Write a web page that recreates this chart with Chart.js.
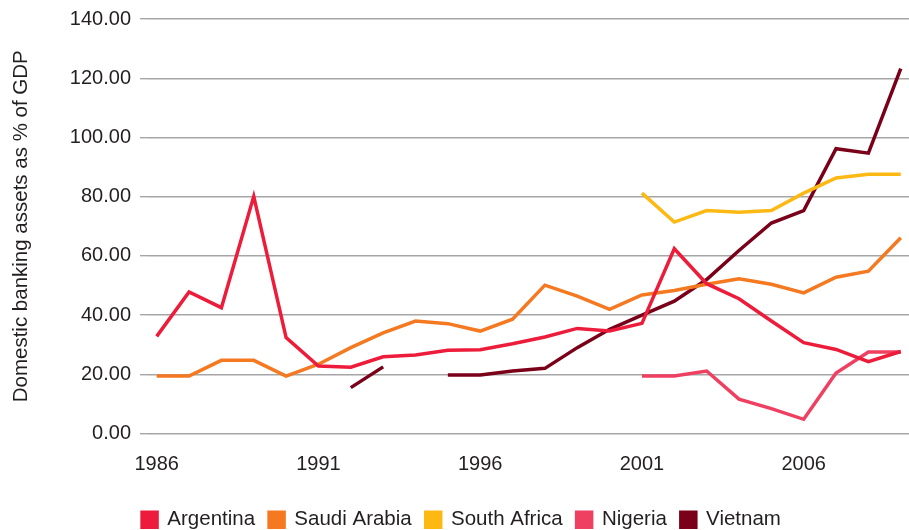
<!DOCTYPE html>
<html>
<head>
<meta charset="utf-8">
<script src="https://cdn.jsdelivr.net/npm/chart.js@4/dist/chart.umd.min.js"></script>
<style>
  html, body { margin: 0; padding: 0; background: #ffffff; }
  #wrap { width: 909px; height: 530px; position: relative; }
</style>
</head>
<body>
<div id="wrap"><canvas id="c" width="909" height="530"></canvas></div>
<script>
const years = [1986,1987,1988,1989,1990,1991,1992,1993,1994,1995,1996,1997,1998,1999,2000,2001,2002,2003,2004,2005,2006,2007,2008,2009];
const tickYears = [1986, 1991, 1996, 2001, 2006];
const yTicks = [0, 20, 40, 60, 80, 100, 120, 140];
const seriesNames = ['Argentina', 'Saudi Arabia', 'South Africa', 'Nigeria', 'Vietnam'];

const argentina   = [32.8, 47.8, 42.5, 80.1, 32.4, 22.8, 22.4, 25.9, 26.5, 28.1, 28.3, 30.3, 32.6, 35.5, 34.6, 37.2, 62.4, 50.6, 45.5, 38.0, 30.7, 28.4, 24.3, 27.7];
const saudiArabia = [19.4, 19.4, 24.7, 24.7, 19.4, 23.4, 29.0, 34.0, 38.0, 37.1, 34.6, 38.6, 50.1, 46.4, 41.9, 46.8, 48.3, 50.4, 52.3, 50.4, 47.5, 52.8, 54.8, 66.1];
const southAfrica = [null, null, null, null, null, null, null, null, null, null, null, null, null, null, null, 81.2, 71.4, 75.3, 74.7, 75.3, 81.2, 86.3, 87.6, 87.6];
const nigeria     = [null, null, null, null, null, null, null, null, null, null, null, null, null, null, null, 19.4, 19.4, 21.1, 11.6, 8.4, 4.8, 20.4, 27.5, 27.5];
const vietnam     = [null, null, null, null, null, null, 15.5, 22.5, null, 19.8, 19.8, 21.1, 22.0, 29.0, 35.2, 40.0, 44.7, 52.0, 61.8, 71.1, 75.3, 96.2, 94.7, 123.2];

const colors = ['#ED1C3A', '#F47920', '#FDB913', '#EF4062', '#7A0019'];
const allSeries = [argentina, saudiArabia, southAfrica, nigeria, vietnam];

const FONT = '"Liberation Sans", Arial, Helvetica, sans-serif';
const TEXT = '#231f20';

const datasets = allSeries.map((vals, i) => ({
  label: seriesNames[i],
  data: years.map((yr, j) => ({ x: yr, y: vals[j] })),
  borderColor: colors[i],
  backgroundColor: colors[i],
  borderWidth: 3.5,
  pointRadius: 0,
  pointHoverRadius: 0,
  tension: 0,
  spanGaps: false,
  borderJoinStyle: 'miter',
  fill: false
}));

const legendShift = {
  id: 'legendShift',
  afterLayout(chart) {
    if (chart.legend) { chart.legend.left += 7; chart.legend.right += 7; }
  }
};

new Chart(document.getElementById('c'), {
  type: 'line',
  data: { datasets },
  plugins: [legendShift],
  options: {
    responsive: false,
    animation: false,
    devicePixelRatio: 1,
    layout: { padding: { top: 3, right: 0, bottom: -10, left: 0 } },
    plugins: {
      tooltip: { enabled: false },
      legend: {
        position: 'bottom',
        align: 'center',
        labels: {
          boxWidth: 15,
          boxHeight: 15,
          padding: 14,
          color: TEXT,
          font: { family: FONT, size: 20.5 }
        }
      }
    },
    scales: {
      x: {
        type: 'linear',
        min: 1985.731,
        max: 2009.255,
        grid: { display: false },
        border: { display: false },
        afterBuildTicks: (s) => { s.ticks = tickYears.map(v => ({ value: v })); },
        afterFit: (s) => { s.height = 62; },
        ticks: {
          color: TEXT,
          padding: 11,
          maxRotation: 0,
          autoSkip: false,
          font: { family: FONT, size: 20 },
          callback: (v) => String(v)
        }
      },
      y: {
        min: 0,
        max: 140,
        afterBuildTicks: (s) => { s.ticks = yTicks.map(v => ({ value: v })); },
        afterFit: (s) => { s.width = 148; },
        border: { display: false },
        grid: { color: '#a6a6a6', lineWidth: 1.4, tickLength: 8, drawTicks: true },
        title: {
          display: true,
          text: 'Domestic banking assets as % of GDP',
          color: TEXT,
          font: { family: FONT, size: 20.5 },
          padding: { top: 9, bottom: 0 }
        },
        ticks: {
          color: TEXT,
          padding: 9,
          font: { family: FONT, size: 20, lineHeight: 1 },
          callback: (v) => Number(v).toFixed(2)
        }
      }
    }
  }
});
</script>
</body>
</html>
